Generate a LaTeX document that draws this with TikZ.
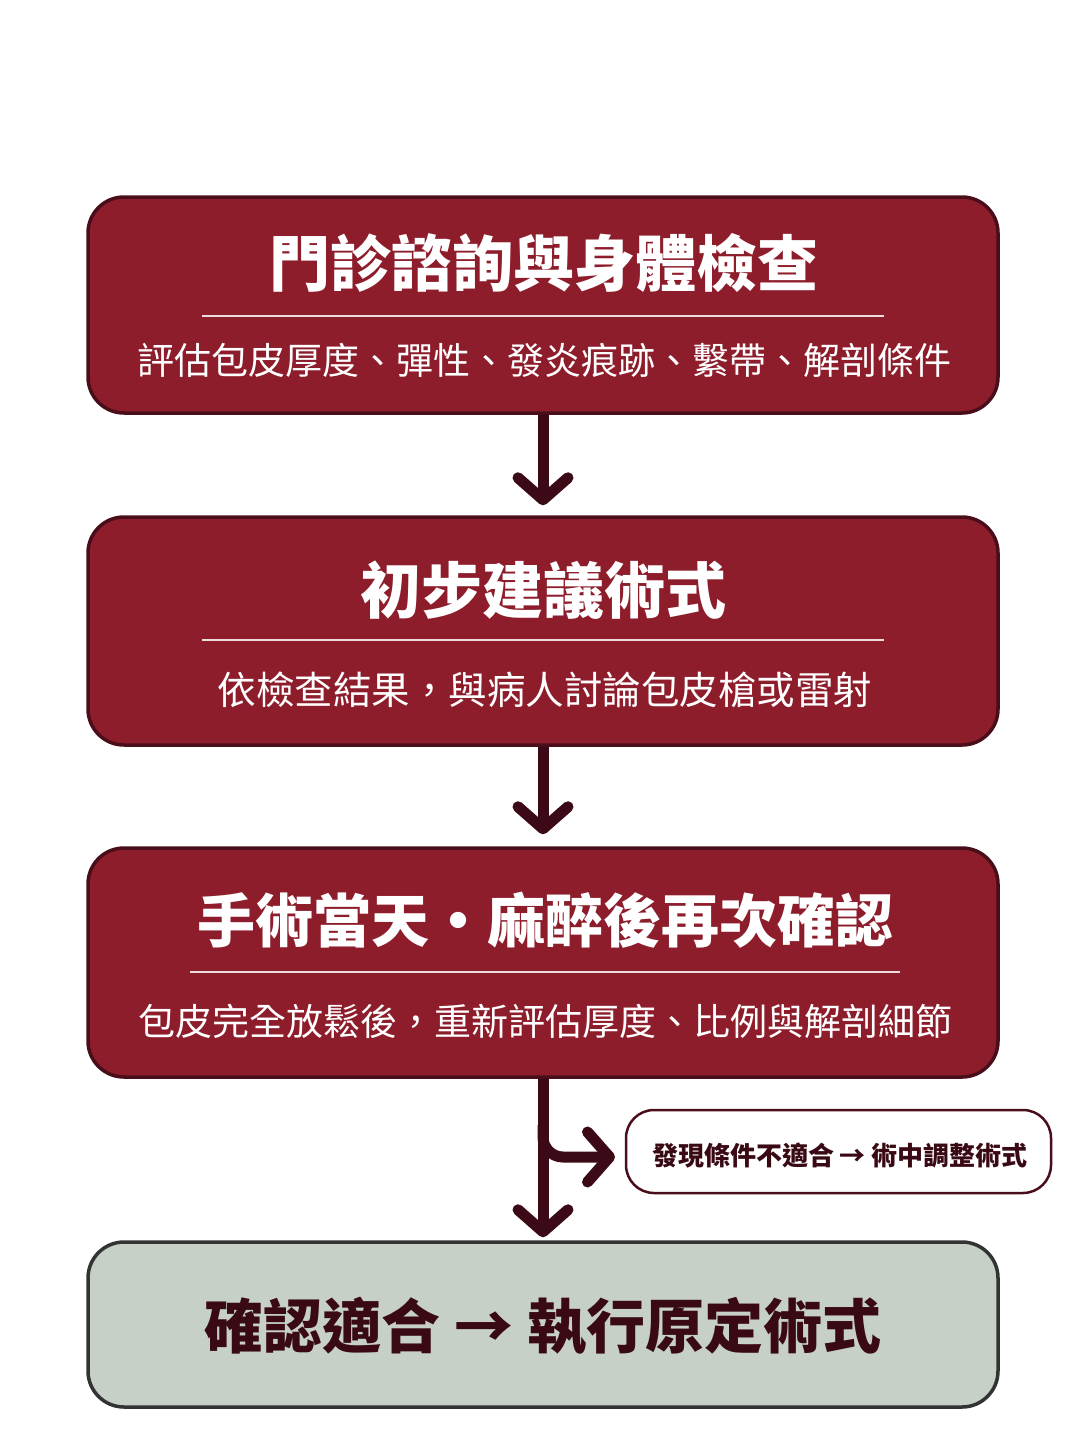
\documentclass[tikz,border=0pt]{standalone}
\usepackage{fontspec}
\newfontfamily\cjk{Noto Sans CJK TC}
\usetikzlibrary{arrows.meta,calc}
\definecolor{boxred}{HTML}{8E1D2C}
\definecolor{boxedge}{HTML}{4A0E1B}
\definecolor{arrowc}{HTML}{3C0A16}
\definecolor{greyfill}{HTML}{C6D0C7}
\definecolor{greyedge}{HTML}{333333}
\definecolor{darktext}{HTML}{3A0A14}
\tikzset{
  redbox/.style={draw=boxedge, line width=3.5pt, fill=boxred, rounded corners=36pt, minimum width=910pt, inner sep=0pt},
  greybox/.style={draw=greyedge, line width=3.5pt, fill=greyfill, rounded corners=36pt, minimum width=910pt, minimum height=165pt, inner sep=0pt},
  sidebox/.style={draw=boxedge, line width=2.5pt, fill=white, rounded corners=28pt, minimum width=425pt, minimum height=83pt, inner sep=0pt},
  titletext/.style={text=white, font=\cjk\bfseries\fontsize{61}{66}\selectfont, inner sep=0pt},
  subtext/.style={text=white, font=\cjk\fontsize{37}{40}\selectfont, inner sep=0pt},
  sepline/.style={draw=white!85!boxred, line width=1.3pt},
  conn/.style={draw=arrowc, line width=11pt, -{Straight Barb[length=22pt,width=50pt,line cap=round,line join=round]}},
}
\begin{document}
\begin{tikzpicture}[x=1pt,y=-1pt]
\useasboundingbox[fill=white] (0,0) rectangle (1086,1448);
% boxes
\node[redbox, minimum height=216pt] (b1) at (543,305) {};
\node[redbox, minimum height=228pt] (b2) at (543,631) {};
\node[redbox, minimum height=229pt] (b3) at (543,962.5) {};
\node[greybox] (b4) at (543,1324.5) {};
\node[sidebox] (side) at (838.5,1151.5) {};
% box 1
\node[titletext] (t1) at (544,263) {門診諮詢與身體檢查};
\coordinate (l1a) at (202,316); \coordinate (l1b) at (884,316);
\draw[sepline] (l1a) -- (l1b);
\node[subtext] (s1) at (544,360) {評估包皮厚度、彈性、發炎痕跡、繫帶、解剖條件};
% box 2
\node[titletext] (t2) at (543,590) {初步建議術式};
\coordinate (l2a) at (202,640); \coordinate (l2b) at (884,640);
\draw[sepline] (l2a) -- (l2b);
\node[subtext, font=\cjk\fontsize{38.5}{42}\selectfont] (s2) at (545,690) {依檢查結果，與病人討論包皮槍或雷射};
% box 3
\node[titletext, font=\cjk\bfseries\fontsize{58}{64}\selectfont] (t3) at (545,920) {手術當天・麻醉後再次確認};
\coordinate (l3a) at (190,972); \coordinate (l3b) at (900,972);
\draw[sepline] (l3a) -- (l3b);
\node[subtext] (s3) at (545,1021) {包皮完全放鬆後，重新評估厚度、比例與解剖細節};
% box 4
\node[text=darktext, font=\cjk\bfseries\fontsize{59}{64}\selectfont, inner sep=0pt] (t4) at (543,1326) {確認適合 → 執行原定術式};
% side text
\node[text=darktext, font=\cjk\bfseries\fontsize{26}{30}\selectfont, inner sep=0pt] (st) at (840,1155) {發現條件不適合 → 術中調整術式};
% connectors
\draw[conn] (b1.south) -- ([yshift=10pt]b2.north);
\draw[conn] (b2.south) -- ([yshift=12pt]b3.north);
\draw[conn] (b3.south) -- ([yshift=3pt]b4.north);
\coordinate (br) at (543,1125);
\coordinate (brend) at (615,1157);
\draw[conn, rounded corners=20pt] (br) |- (brend);
\end{tikzpicture}
\end{document}
